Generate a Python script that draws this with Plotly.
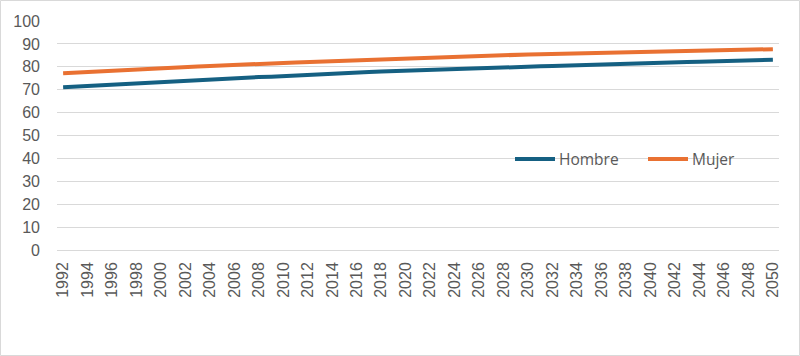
import plotly.graph_objects as go

years = list(range(1992, 2051))
hombre = [71.1, 71.4, 71.7, 72.0, 72.2, 72.5, 72.8, 73.1, 73.4, 73.6,
          73.9, 74.2, 74.4, 74.7, 75.0, 75.2, 75.5, 75.7, 76.0, 76.2,
          76.5, 76.7, 77.0, 77.2, 77.4, 77.7, 77.9, 78.1, 78.4, 78.5,
          78.7, 78.9, 79.0, 79.2, 79.4, 79.5, 79.7, 79.9, 80.0, 80.2,
          80.3, 80.5, 80.7, 80.9, 81.0, 81.2, 81.3, 81.5, 81.6, 81.8,
          81.9, 82.1, 82.2, 82.3, 82.5, 82.6, 82.8, 82.9, 83.1]
mujer = [77.2, 77.5, 77.8, 78.0, 78.3, 78.6, 78.8, 79.1, 79.3, 79.6,
         79.8, 80.1, 80.3, 80.6, 80.9, 81.1, 81.3, 81.5, 81.7, 81.9,
         82.1, 82.3, 82.5, 82.7, 82.9, 83.1, 83.4, 83.6, 83.8, 83.9,
         84.1, 84.3, 84.4, 84.6, 84.8, 84.9, 85.1, 85.2, 85.4, 85.5,
         85.6, 85.8, 85.9, 86.1, 86.2, 86.3, 86.4, 86.5, 86.7, 86.8,
         86.9, 87.0, 87.1, 87.2, 87.3, 87.4, 87.5, 87.6, 87.7]
series_names = ["Hombre", "Mujer"]
series_colors = ["#156082", "#E97132"]

cats = [str(y) for y in years]
tick_labels = cats[::2]

fig = go.Figure()
for name, vals, col in zip(series_names, [hombre, mujer], series_colors):
    fig.add_trace(go.Scatter(x=cats, y=vals, mode="lines", name=name,
                             showlegend=False,
                             line=dict(color=col, width=4)))

L, R, T, B = 57, 21, 21, 106
W, H = 800, 356
pw, ph = W - L - R, H - T - B

def px_x(px):
    return (px - L) / pw

def px_y(py):
    return (H - B - py) / ph

shapes = [dict(type="rect", xref="paper", yref="paper",
               x0=px_x(0.5), x1=px_x(W - 0.5), y0=px_y(H - 0.5), y1=px_y(0.5),
               line=dict(color="#d9d9d9", width=1), layer="below")]
annotations = []
leg_y = 159
for name, col, x0 in zip(series_names, series_colors, [515, 648]):
    shapes.append(dict(type="line", xref="paper", yref="paper",
                       x0=px_x(x0), x1=px_x(x0 + 40), y0=px_y(leg_y), y1=px_y(leg_y),
                       line=dict(color=col, width=4)))
    annotations.append(dict(xref="paper", yref="paper", x=px_x(x0 + 42),
                            y=px_y(leg_y), text=name, showarrow=False,
                            xanchor="left", yanchor="middle",
                            font=dict(size=15.5, color="#595959",
                                      family="Open Sans, sans-serif")))

fig.update_layout(
    width=W, height=H,
    margin=dict(l=L, r=R, t=T, b=B),
    paper_bgcolor="white", plot_bgcolor="white",
    font=dict(family="Liberation Sans, Arial, sans-serif", color="#595959", size=16),
    showlegend=False,
    xaxis=dict(type="category", tickmode="array", tickvals=tick_labels,
               ticktext=tick_labels, tickangle=-90, showgrid=False,
               showline=False, ticks="", tickfont=dict(size=16),
               ticklabelstandoff=8,
               range=[-0.5, len(cats) - 0.5]),
    yaxis=dict(range=[0, 100], dtick=10, showgrid=True, gridcolor="#d9d9d9",
               gridwidth=1, zeroline=True, zerolinecolor="#d9d9d9",
               zerolinewidth=1, showline=False, ticks="", ticklabelstandoff=16,
               tickfont=dict(size=16)),
    shapes=shapes,
    annotations=annotations,
)

fig.write_html("out.html", config={"displayModeBar": False},
               post_script="document.body.style.margin='0';")
